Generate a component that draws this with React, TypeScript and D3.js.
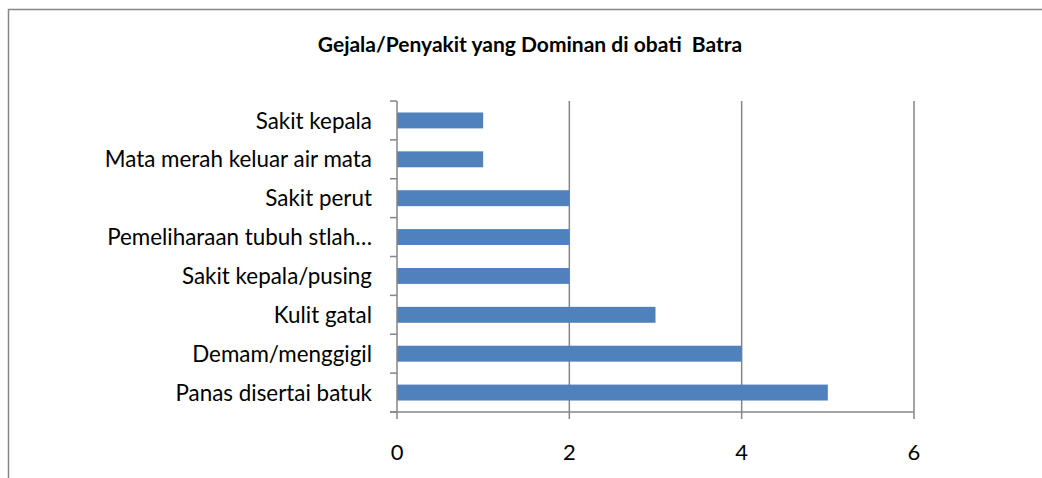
import { useRef, useEffect } from 'react';
import * as d3 from 'd3';

const categories = [
  'Sakit kepala',
  'Mata merah keluar air mata',
  'Sakit perut',
  'Pemeliharaan tubuh stlah…',
  'Sakit kepala/pusing',
  'Kulit gatal',
  'Demam/menggigil',
  'Panas disertai batuk',
];
const values = [1, 1, 2, 2, 2, 3, 4, 5];
const xTicks = [0, 2, 4, 6];
const title = 'Gejala/Penyakit yang Dominan di obati  Batra';

export default function App() {
  const svgRef = useRef<SVGSVGElement | null>(null);

  useEffect(() => {
    const width = 1042, height = 478;
    const margin = { top: 101, right: 128, bottom: 66, left: 397 };
    const innerWidth = width - margin.left - margin.right;
    const innerHeight = height - margin.top - margin.bottom;
    const axisColor = '#868686';
    const font = "Lato, 'Open Sans', sans-serif";

    d3.select(svgRef.current).selectAll('*').remove();
    const svg = d3.select(svgRef.current)
      .attr('width', width)
      .attr('height', height)
      .style('display', 'block');

    // bingkai luar (terpotong kanan/bawah)
    svg.append('rect')
      .attr('x', 8.5)
      .attr('y', 9.5)
      .attr('width', width + 20)
      .attr('height', height + 20)
      .attr('fill', '#fff')
      .attr('stroke', axisColor)
      .attr('stroke-width', 1.5);

    svg.append('text')
      .attr('x', 530)
      .attr('y', 52)
      .attr('text-anchor', 'middle')
      .style('font-family', font)
      .style('font-size', '21px')
      .style('font-weight', 'bold')
      .style('white-space', 'pre')
      .attr('fill', '#000')
      .text(title);

    const g = svg.append('g')
      .attr('transform', `translate(${margin.left},${margin.top})`);

    const xScale = d3.scaleLinear().domain([0, 6]).range([0, innerWidth]);
    const yScale = d3.scaleBand<string>()
      .domain(categories)
      .range([0, innerHeight])
      .paddingInner(0.59)
      .paddingOuter(0.295);

    // gridlines
    xTicks.filter(t => t > 0).forEach(t => {
      g.append('line')
        .attr('x1', xScale(t)).attr('x2', xScale(t))
        .attr('y1', 0).attr('y2', innerHeight)
        .attr('stroke', axisColor)
        .attr('stroke-width', 1.5);
    });

    // bars
    categories.forEach((c, i) => {
      g.append('rect')
        .attr('x', xScale(0))
        .attr('y', yScale(c)!)
        .attr('width', xScale(values[i]) - xScale(0))
        .attr('height', yScale.bandwidth())
        .attr('fill', '#4F81BD');
    });

    // y axis line + tick di batas kategori
    g.append('line')
      .attr('x1', 0).attr('x2', 0)
      .attr('y1', 0).attr('y2', innerHeight)
      .attr('stroke', axisColor).attr('stroke-width', 1.5);
    for (let i = 0; i <= categories.length; i++) {
      const yy = i * innerHeight / categories.length;
      g.append('line')
        .attr('x1', -7).attr('x2', 0)
        .attr('y1', yy).attr('y2', yy)
        .attr('stroke', axisColor).attr('stroke-width', 1.5);
    }

    // x axis line + ticks
    g.append('line')
      .attr('x1', -7).attr('x2', innerWidth)
      .attr('y1', innerHeight).attr('y2', innerHeight)
      .attr('stroke', axisColor).attr('stroke-width', 1.5);
    xTicks.forEach(t => {
      g.append('line')
        .attr('x1', xScale(t)).attr('x2', xScale(t))
        .attr('y1', innerHeight).attr('y2', innerHeight + 7)
        .attr('stroke', axisColor).attr('stroke-width', 1.5);
      g.append('text')
        .attr('x', xScale(t))
        .attr('y', innerHeight + 48)
        .attr('text-anchor', 'middle')
        .style('font-family', font)
        .style('font-size', '22px')
        .attr('fill', '#000')
        .text(t);
    });

    // label kategori
    categories.forEach(c => {
      g.append('text')
        .attr('x', -25)
        .attr('y', yScale(c)! + yScale.bandwidth() / 2)
        .attr('dy', '0.36em')
        .attr('text-anchor', 'end')
        .style('font-family', font)
        .style('font-size', '22.4px')
        .attr('fill', '#000')
        .text(c);
    });
  }, []);

  return <svg ref={svgRef} style={{ position: 'absolute', left: 0, top: 0 }}></svg>;
}
